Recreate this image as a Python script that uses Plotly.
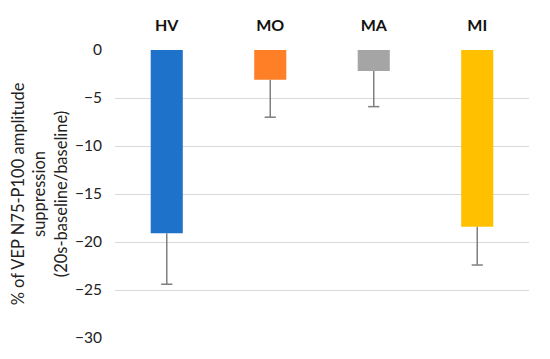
import plotly.graph_objects as go

categories = ["HV", "MO", "MA", "MI"]
values = [-19.1, -3.1, -2.2, -18.4]
errors = [5.3, 3.9, 3.7, 4.0]
colors = ["#1F72C9", "#FF7F27", "#A5A5A5", "#FFC000"]
y_ticks = [0, -5, -10, -15, -20, -25, -30]

fig = go.Figure(go.Bar(
    x=categories, y=values,
    marker=dict(color=colors, line=dict(width=0)),
))

# lower-only error bars (stem + cap at the end)
ex, ey = [], []
for c, v, e in zip(categories, values, errors):
    ex += [c, c, None]
    ey += [v, v - e, None]
fig.add_trace(go.Scatter(x=ex, y=ey, mode="lines", line=dict(color="#7F7F7F", width=1.5),
                         hoverinfo="skip"))
fig.add_trace(go.Scatter(x=categories, y=[v - e for v, e in zip(values, errors)], mode="markers",
                         marker=dict(symbol="line-ew-open", size=8, color="#7F7F7F",
                                     line=dict(color="#7F7F7F", width=1.5)),
                         hoverinfo="skip"))

fig.update_layout(
    width=550, height=359,
    margin=dict(l=107, r=29, t=42, b=29),
    plot_bgcolor="white", paper_bgcolor="white",
    font=dict(family="Lato, Liberation Sans, sans-serif", color="#222222"),
    bargap=0.69,
    showlegend=False,
    xaxis=dict(side="top", showgrid=False, showline=False, zeroline=False, automargin=False,
               tickfont=dict(size=16, color="#111111", family="Lato, sans-serif", weight="bold"),
               ticks="", ticklabelstandoff=15),
    yaxis=dict(range=[-30, 0], tickvals=y_ticks, showgrid=True, gridcolor="#D9D9D9",
               gridwidth=1, zeroline=False, showline=False, automargin=False,
               tickfont=dict(size=15.5, color="#222222"), ticklabelstandoff=12,
               title=dict(text="% of VEP N75-P100 amplitude<br>suppression<br>(20s-baseline/baseline)",
                          font=dict(size=16.5, color="#222222"), standoff=8)),
)

fig.write_html("out.html")
